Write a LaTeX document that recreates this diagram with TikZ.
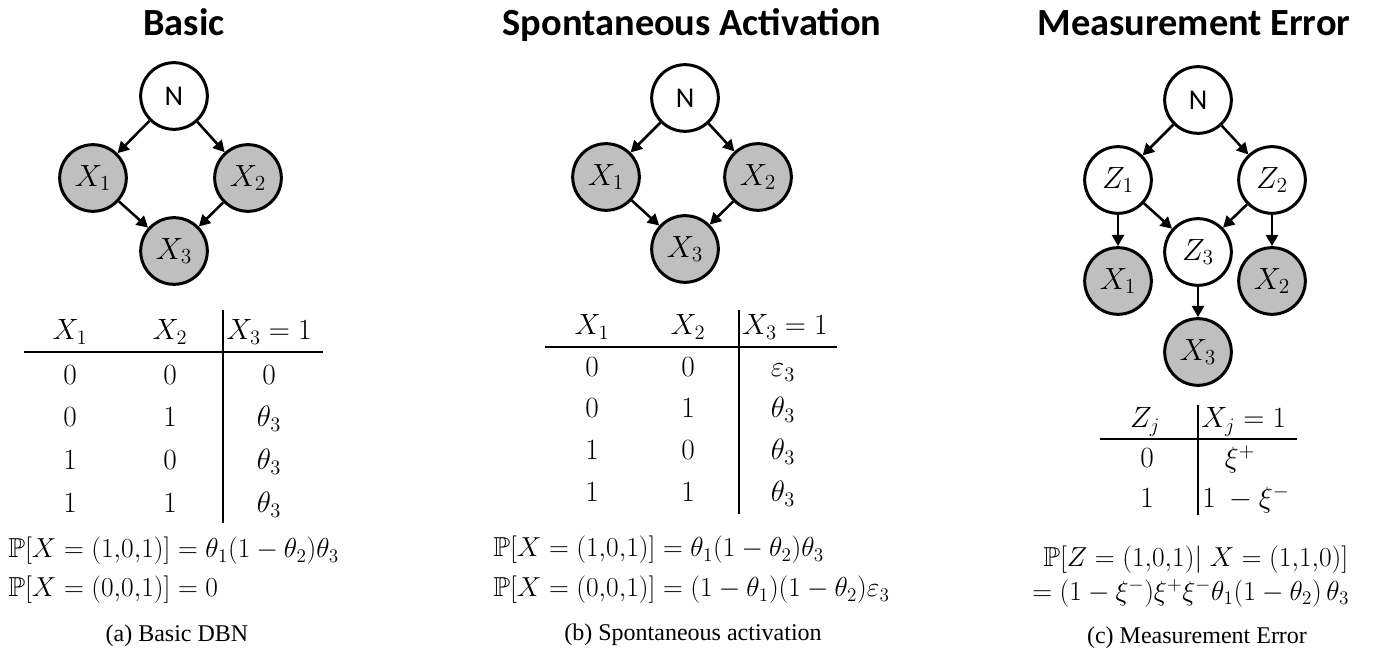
\RequirePackage{fix-cm}
\documentclass[tikz,border=0pt]{standalone}
\usepackage{amssymb}
\usepackage{fontspec}
\setmainfont{Liberation Serif}
\newfontfamily\calibri{Carlito}
\usetikzlibrary{arrows.meta}
\definecolor{obsgray}{RGB}{191,191,191}
\tikzset{
  bn/.style={circle, draw, line width=2.25pt, minimum size=50pt, inner sep=0pt, fill=white,
             font=\fontsize{23}{26}\selectfont},
  obs/.style={bn, fill=obsgray},
  nlab/.style={font=\calibri\fontsize{21.5}{24}\selectfont},
  edge/.style={line width=1.9pt, -{Triangle[length=8.5pt,width=9pt]}},
  ttl/.style={anchor=base, inner sep=0pt, font=\calibri\bfseries\fontsize{28.8}{32}\selectfont},
  cell/.style={anchor=base, inner sep=0pt, font=\fontsize{22}{24}\selectfont},
  lcell/.style={cell, anchor=base west},
  fml/.style={anchor=base west, inner sep=0pt, font=\fontsize{20.6}{24}\selectfont},
  rule/.style={line width=1.5pt},
  capt/.style={anchor=base, inner sep=0pt, font=\fontsize{18}{22}\selectfont},
}
\begin{document}
\begin{tikzpicture}[x=0.75pt, y=-0.75pt]
\useasboundingbox (0,0) rectangle (1375,655);

% ================= (a) Basic =================
\node[ttl] (ta) at (184,36) {Basic};
\node[bn, nlab] (aN) at (174,96) {N};
\node[obs] (aX1) at (93,178) {$X_1$};
\node[obs] (aX2) at (248,178) {$X_2$};
\node[obs] (aX3) at (174,251) {$X_3$};
\draw[edge] (aN) -- (aX1);
\draw[edge] (aN) -- (aX2);
\draw[edge] (aX1) -- (aX3);
\draw[edge] (aX2) -- (aX3);

\node[cell] (ah1) at (70,340) {$X_1$};
\node[cell] (ah2) at (170,340) {$X_2$};
\node[lcell] (ah3) at (226,340) {$X_3=1$};
\coordinate (aRl) at (24,352); \coordinate (aRr) at (323,352);
\coordinate (aVt) at (223,310); \coordinate (aVb) at (223,523);
\draw[rule] (aRl) -- (aRr);
\draw[rule] (aVt) -- (aVb);
\node[cell] (a11) at (70,385) {$0$};  \node[cell] (a12) at (170,385) {$0$}; \node[cell] (a13) at (269,385) {$0$};
\node[cell] (a21) at (70,427) {$0$};  \node[cell] (a22) at (170,427) {$1$}; \node[cell] (a23) at (269,427) {$\theta_3$};
\node[cell] (a31) at (70,470) {$1$};  \node[cell] (a32) at (170,470) {$0$}; \node[cell] (a33) at (269,470) {$\theta_3$};
\node[cell] (a41) at (70,513) {$1$};  \node[cell] (a42) at (170,513) {$1$}; \node[cell] (a43) at (269,513) {$\theta_3$};
\node[fml] (af1) at (8,558) {$\mathbb{P}[X=(1{,}0{,}1)]=\theta_1(1-\theta_2)\theta_3$};
\node[fml] (af2) at (8,597) {$\mathbb{P}[X=(0{,}0{,}1)]=0$};
\node[capt] (ca) at (177,642) {(a) Basic DBN};

% ================= (b) Spontaneous activation =================
\node[ttl] (tb) at (692,36) {Spontaneous Activation};
\node[bn, nlab] (bN) at (685,98) {N};
\node[obs] (bX1) at (606,177) {$X_1$};
\node[obs] (bX2) at (758,177) {$X_2$};
\node[obs] (bX3) at (685,249) {$X_3$};
\draw[edge] (bN) -- (bX1);
\draw[edge] (bN) -- (bX2);
\draw[edge] (bX1) -- (bX3);
\draw[edge] (bX2) -- (bX3);

\node[cell] (bh1) at (592,335) {$X_1$};
\node[cell] (bh2) at (688,335) {$X_2$};
\node[lcell] (bh3) at (742,335) {$X_3=1$};
\coordinate (bRl) at (545,347); \coordinate (bRr) at (837,347);
\coordinate (bVt) at (739,310); \coordinate (bVb) at (739,514);
\draw[rule] (bRl) -- (bRr);
\draw[rule] (bVt) -- (bVb);
\node[cell] (b11) at (592,377) {$0$}; \node[cell] (b12) at (688,377) {$0$}; \node[cell] (b13) at (783,377) {$\varepsilon_3$};
\node[cell] (b21) at (592,418) {$0$}; \node[cell] (b22) at (688,418) {$1$}; \node[cell] (b23) at (783,418) {$\theta_3$};
\node[cell] (b31) at (592,460) {$1$}; \node[cell] (b32) at (688,460) {$0$}; \node[cell] (b33) at (783,460) {$\theta_3$};
\node[cell] (b41) at (592,502) {$1$}; \node[cell] (b42) at (688,502) {$1$}; \node[cell] (b43) at (783,502) {$\theta_3$};
\node[fml] (bf1) at (493,557) {$\mathbb{P}[X=(1{,}0{,}1)]=\theta_1(1-\theta_2)\theta_3$};
\node[fml] (bf2) at (493,597) {$\mathbb{P}[X=(0{,}0{,}1)]=(1-\theta_1)(1-\theta_2)\varepsilon_3$};
\node[capt] (cb) at (693,641) {(b) Spontaneous activation};

% ================= (c) Measurement error =================
\node[ttl] (tc) at (1194,36) {Measurement Error};
\node[bn, nlab] (cN) at (1198,100) {N};
\node[bn] (cZ1) at (1118,180) {$Z_1$};
\node[bn] (cZ2) at (1272,180) {$Z_2$};
\node[bn] (cZ3) at (1198,252) {$Z_3$};
\node[obs] (cX1) at (1118,281) {$X_1$};
\node[obs] (cX2) at (1272,281) {$X_2$};
\node[obs] (cX3) at (1198,352) {$X_3$};
\draw[edge] (cN) -- (cZ1);
\draw[edge] (cN) -- (cZ2);
\draw[edge] (cZ1) -- (cZ3);
\draw[edge] (cZ2) -- (cZ3);
\draw[edge] (cZ1) -- (cX1);
\draw[edge] (cZ2) -- (cX2);
\draw[edge] (cZ3) -- (cX3);

\node[cell] (ch1) at (1145,428) {$Z_j$};
\node[lcell] (ch2) at (1201,428) {$X_j=1$};
\coordinate (cRl) at (1100,439); \coordinate (cRr) at (1297,439);
\coordinate (cVt) at (1198,405); \coordinate (cVb) at (1198,515);
\draw[rule] (cRl) -- (cRr);
\draw[rule] (cVt) -- (cVb);
\node[cell] (c11) at (1147,468) {$0$}; \node[cell] (c12) at (1240,468) {$\xi^{+}$};
\node[cell] (c21) at (1147,508) {$1$}; \node[lcell] (c22) at (1202,508) {$1\ -\xi^{-}$};
\node[fml] (cf1) at (1043,567) {$\mathbb{P}[Z=(1{,}0{,}1)|\;X=(1{,}1{,}0)]$};
\node[fml] (cf2) at (1032,600) {$=(1-\xi^{-})\xi^{+}\xi^{-}\theta_1(1-\theta_2)\,\theta_3$};
\node[capt] (cc) at (1197,643) {(c) Measurement Error};
\end{tikzpicture}
\end{document}
